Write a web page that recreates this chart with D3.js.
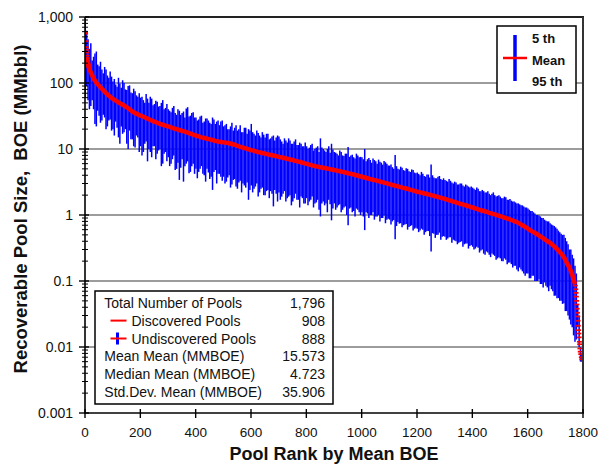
<!DOCTYPE html>
<html><head><meta charset="utf-8">
<script src="https://cdn.jsdelivr.net/npm/d3@7"></script>
<style>
body{margin:0;background:#fff}
svg{display:block}
text{font-family:Arial,"Liberation Sans",sans-serif;fill:#111;white-space:pre}
</style>
</head><body><svg id="c" width="600" height="464"></svg>
<script>
// Pools are ranked by mean BOE. Bars are drawn for every 5th pool:
// the first set at ranks 1, 11, 21, ... and the second set at ranks 6, 16, 26, ...
const RANK_STEP = 10;
const MID_OFFSET = 5;

const meanBOE = [
 590,190,145,117,101,91,82,74,67,62,
 57.5,54,51,48,45.5,43,40,37,35,33.5,
 32,30.8,29.5,28.2,27,26,25,24,23.3,22.6,
 22,21.3,20.6,20,19.4,18.8,18.3,17.7,17.1,16.5,
 16,15.5,15,14.7,14.3,14,13.7,13.3,13,12.8,
 12.6,12.4,12.2,11.9,11.6,11.2,10.8,10.5,10.2,9.9,
 9.6,9.4,9.1,8.9,8.7,8.5,8.3,8.1,7.95,7.8,
 7.6,7.45,7.3,7.1,6.95,6.8,6.6,6.45,6.3,6.1,
 5.95,5.8,5.65,5.5,5.4,5.3,5.2,5.1,5.0,4.9,
 4.8,4.7,4.6,4.5,4.4,4.3,4.2,4.1,4.0,3.9,
 3.8,3.7,3.6,3.5,3.42,3.35,3.26,3.18,3.1,3.02,
 2.93,2.85,2.78,2.72,2.65,2.58,2.52,2.45,2.38,2.32,
 2.25,2.2,2.15,2.1,2.05,2.0,1.95,1.9,1.85,1.8,
 1.75,1.7,1.65,1.6,1.55,1.5,1.46,1.42,1.38,1.34,
 1.3,1.26,1.22,1.18,1.15,1.12,1.08,1.05,1.02,0.99,
 0.96,0.93,0.9,0.87,0.84,0.81,0.78,0.74,0.7,0.66,
 0.62,0.58,0.55,0.52,0.49,0.46,0.43,0.40,0.38,0.35,
 0.32,0.29,0.26,0.23,0.19,0.16,0.125,0.09,0.03,0.008
];
const p95 = [
 950,460,400,250,300,180,160,175,130,150,
 105,95,120,85,100,78,92,70,75,62,
 60,55,68,50,58,48,52,45,55,42,
 40,36,45,33,38,35,30,43,32,36,
 30,28,32,26,29,25,30,24,27,26,
 22,24,20,25,21,19,23,18,21,20,
 24,17,19,16,18,15,17,14.5,16,15,
 15.5,13,14.5,12.5,13.5,12,14,11.5,12,11,
 11,10.5,12,10,11,14.5,10,9,11,12,
 9,8.5,9.5,8,8.5,10.7,8,7.5,8.5,7.5,
 7.5,10,7,6.8,7.2,6.5,6.9,6.2,6.6,6.0,
 5.6,5.3,8.1,5.0,5.4,4.8,5.1,4.6,4.9,4.4,
 4.4,4.0,4.2,3.8,4.1,5.8,3.7,3.6,3.9,3.4,
 3.4,3.2,3.3,3.0,3.1,2.9,3.0,2.7,2.8,2.6,
 2.6,2.4,2.5,2.3,2.3,2.2,2.1,2.1,2.0,1.95,
 1.9,1.8,1.85,1.7,1.65,1.6,1.5,1.45,1.4,1.3,
 1.25,1.15,1.1,1.0,0.98,0.9,0.85,0.8,0.75,0.7,
 0.65,0.58,0.52,0.5,0.4,0.3,0.25,0.17,0.045,0.01
];
const p5 = [
 60,55,45,40,22,32,27,30,22,28,
 20,26,15,22,18,12,19,14,10.5,15,
 11,9,13,10,7.5,11,8.5,10,6,9,
 7.5,6,8,5,3.4,7,5.5,6.5,4.5,6,
 5,4.5,5.5,4,5,3.5,2.4,4.8,4.2,3.8,
 3.8,3.2,4,2.9,3.5,2.5,3.3,3.0,2.6,1.7,
 2.8,2.5,3.0,2.2,2.6,2.0,2.4,2.3,1.35,2.1,
 2.2,1.9,2.3,1.8,2.0,1.6,2.1,1.7,1.9,1.5,
 1.8,1.6,1.9,1.5,1.7,0.95,1.6,1.5,1.7,0.83,
 1.5,1.3,1.45,1.2,1.35,0.7,1.3,1.15,1.25,1.1,
 1.1,0.59,1.05,1.0,1.1,0.95,1.0,0.9,0.98,0.85,
 0.85,0.8,0.43,0.78,0.75,0.7,0.73,0.66,0.7,0.62,
 0.62,0.58,0.6,0.55,0.57,0.28,0.52,0.5,0.54,0.47,
 0.47,0.44,0.46,0.42,0.4,0.38,0.4,0.36,0.37,0.34,
 0.33,0.31,0.32,0.29,0.26,0.28,0.25,0.26,0.24,0.22,
 0.22,0.2,0.21,0.19,0.18,0.17,0.15,0.16,0.14,0.12,
 0.13,0.11,0.12,0.1,0.105,0.09,0.095,0.08,0.085,0.07,
 0.06,0.055,0.05,0.046,0.035,0.026,0.02,0.012,0.02,0.006
];
// second set of pools (ranks 6, 16, 26, ...)
const p95Mid = [
 620,330,220,280,190,210,140,160,120,125,
 115,88,98,110,80,90,72,82,65,70,
 62,50,58,62,46,54,44,50,40,48,
 38,42,35,40,33,37,41,31,35,30,
 27,31,25,29,27,24,28,26,23,27,
 23,20,22,19,23,20,18,21,17,19,
 18,16,17.5,15,16.5,17,14,15.5,13.5,16,
 14,12,13.5,14.5,12,13,11.5,12.5,11,12.5,
 10,11.5,9.5,10.5,9,10.5,9.5,10,8.8,9.8,
 8.8,8,9,7.8,8.5,7.6,8.2,7.2,8,7.6,
 7,6.5,7.3,6.2,6.8,6.0,6.4,5.8,6.3,5.6,
 5.8,5.0,5.5,4.9,5.2,4.7,5.0,4.5,4.8,4.3,
 4.2,4.5,3.9,4.1,3.7,4.0,3.6,3.8,3.5,3.6,
 3.3,3.5,3.1,3.2,2.9,3.0,2.8,2.9,2.7,2.7,
 2.5,2.6,2.3,2.4,2.2,2.3,2.0,2.2,1.9,2.0,
 1.8,1.9,1.7,1.75,1.6,1.55,1.5,1.4,1.35,1.3,
 1.2,1.15,1.05,1.0,0.95,0.9,0.82,0.8,0.72,0.68,
 0.62,0.55,0.5,0.45,0.36,0.3,0.22,0.13,0.03,0.008
];
const p5Mid = [
 90,40,55,24,38,25,33,20,27,19,
 16,21,12,17,20,10,14,11,16,9,
 8,12,6.5,9,11,7,9.5,5.5,8.5,6.5,
 5.5,7,4.8,6.2,5.2,3.2,6,4.3,5.5,4.2,
 3.6,5,4.2,3.2,4.4,3.8,4.5,3.0,4.2,3.3,
 3.0,3.7,2.6,3.4,2.7,3.1,2.2,2.8,3.1,2.4,
 2.2,2.7,1.9,2.5,2.0,2.3,1.8,2.1,2.4,1.6,
 1.7,2.1,1.6,1.9,1.4,1.8,1.7,1.3,1.8,1.5,
 1.4,1.7,1.3,1.55,1.2,1.5,1.4,1.1,1.45,1.25,
 1.2,1.4,1.1,1.3,1.0,1.25,1.1,0.95,1.2,1.0,
 0.95,1.1,0.9,1.0,0.85,0.95,0.8,0.9,0.75,0.88,
 0.72,0.84,0.68,0.74,0.65,0.72,0.6,0.68,0.58,0.64,
 0.55,0.62,0.5,0.57,0.48,0.53,0.45,0.5,0.42,0.48,
 0.42,0.46,0.38,0.41,0.36,0.39,0.33,0.37,0.31,0.35,
 0.3,0.33,0.27,0.3,0.25,0.27,0.23,0.25,0.21,0.23,
 0.2,0.22,0.18,0.19,0.16,0.17,0.14,0.15,0.13,0.13,
 0.11,0.12,0.1,0.1,0.09,0.08,0.085,0.07,0.075,0.06,
 0.055,0.05,0.045,0.035,0.03,0.022,0.015,0.013,0.01,0.006
];
// individually visible mean markers at the head and tail of the ranking
const headRank = [1,2,3,4,5,6,7,8,9,10,12,14,16];
const headMean = [590,560,430,350,320,290,260,240,220,205,190,175,160];
const tailRank = [1772,1774,1775,1776,1777,1778,1779,1780,1781,1782,1783,1784,1785,1786,1787,1788,1789,1790,1792,1794,1796];
const tailMean = [0.085,0.075,0.066,0.058,0.05,0.044,0.038,0.033,0.029,0.025,0.021,0.018,0.016,0.014,0.012,0.011,0.0095,0.0085,0.0078,0.007,0.0065];

const yTickValues = [0.001,0.01,0.1,1,10,100,1000];
const yTickLabels = ["0.001","0.01","0.1","1","10","100","1,000"];
const xTickValues = [0,200,400,600,800,1000,1200,1400,1600,1800];
const legendLabels = ["5 th","Mean","95 th"];
const statsLabels = ["Total Number of Pools","Discovered Pools","Undiscovered Pools","Mean Mean (MMBOE)","Median Mean (MMBOE)","Std.Dev. Mean (MMBOE)"];
const statsValues = ["1,796","908","888","15.573","4.723","35.906"];
const xTitle = "Pool Rank by Mean BOE";
const yTitle = "Recoverable Pool Size,  BOE (MMbbl)";

const svg = d3.select("#c");
const L = 85, R = 583, T = 17, B = 413;
const x = d3.scaleLinear().domain([0,1800]).range([L,R]);
const y = d3.scaleLog().domain([0.001,1000]).range([B,T]);

svg.append("defs").append("clipPath").attr("id","clip")
  .append("rect").attr("x",L).attr("y",T).attr("width",R-L).attr("height",B-T);

// gridlines
svg.append("g").selectAll("line").data(yTickValues.filter(v=>v>0.001 && v<1000)).join("line")
  .attr("x1",L).attr("x2",R).attr("y1",d=>y(d)).attr("y2",d=>y(d))
  .attr("stroke","#3a3a3a").attr("stroke-width",1.2);

const bars = meanBOE.map((m,i)=>({rank:1+i*RANK_STEP, mean:m, lo:p5[i], hi:p95[i]}));
const barsMid = p95Mid.map((h,i)=>({rank:1+MID_OFFSET+i*RANK_STEP, lo:p5Mid[i], hi:h}));
const allBars = bars.concat(barsMid);

const plot = svg.append("g").attr("clip-path","url(#clip)");
plot.append("g").selectAll("line").data(allBars).join("line")
  .attr("x1",d=>x(d.rank)).attr("x2",d=>x(d.rank))
  .attr("y1",d=>y(d.hi)).attr("y2",d=>y(d.lo))
  .attr("stroke","#0000ff").attr("stroke-width",1.5);

// mean line (dense markers merge into a thick line)
const linePts = headRank.map((r,i)=>({rank:r,mean:headMean[i]})).filter(d=>d.rank>=8)
  .concat(bars.filter(d=>d.rank>16 && d.rank<=1771));
plot.append("path").datum(linePts)
  .attr("d", d3.line().x(d=>x(d.rank)).y(d=>y(d.mean)))
  .attr("fill","none").attr("stroke","#ff0000").attr("stroke-width",4.5).attr("stroke-linejoin","round");

const dashes = headRank.map((r,i)=>({rank:r,mean:headMean[i]}))
  .concat(tailRank.map((r,i)=>({rank:r,mean:tailMean[i]})));
plot.append("g").selectAll("line").data(dashes).join("line")
  .attr("x1",d=>x(d.rank)-2.5).attr("x2",d=>x(d.rank)+2.5)
  .attr("y1",d=>y(d.mean)).attr("y2",d=>y(d.mean))
  .attr("stroke","#ff0000").attr("stroke-width",1.8);

// frame
svg.append("line").attr("x1",L).attr("x2",R+1).attr("y1",T).attr("y2",T).attr("stroke","#222").attr("stroke-width",2);
svg.append("line").attr("x1",R).attr("x2",R).attr("y1",T).attr("y2",B).attr("stroke","#333").attr("stroke-width",2);

// y axis
const gy = svg.append("g");
gy.append("line").attr("x1",L).attr("x2",L).attr("y1",T).attr("y2",B+1).attr("stroke","#000").attr("stroke-width",1.6);
const minor = [];
for (let k=0;k<6;k++) for (let m=2;m<=9;m++) minor.push(yTickValues[k]*m);
gy.selectAll(".mn").data(minor).join("line").attr("class","mn")
  .attr("x1",L-3).attr("x2",L+3).attr("y1",d=>y(d)).attr("y2",d=>y(d)).attr("stroke","#000").attr("stroke-width",1);
gy.selectAll(".mj").data(yTickValues).join("line").attr("class","mj")
  .attr("x1",L-6).attr("x2",L+4).attr("y1",d=>y(d)).attr("y2",d=>y(d)).attr("stroke","#000").attr("stroke-width",1.4);
gy.selectAll("text").data(yTickValues).join("text")
  .attr("x",L-12).attr("y",d=>y(d)).attr("dy","0.35em").attr("text-anchor","end")
  .attr("font-size",14).attr("fill","#222").text((d,i)=>yTickLabels[i]);

// x axis
const gx = svg.append("g");
gx.append("line").attr("x1",L).attr("x2",R+1).attr("y1",B).attr("y2",B).attr("stroke","#000").attr("stroke-width",1.6);
gx.selectAll("line.t").data(xTickValues).join("line").attr("class","t")
  .attr("x1",d=>x(d)).attr("x2",d=>x(d)).attr("y1",B-4).attr("y2",B+5).attr("stroke","#000").attr("stroke-width",1.4);
gx.selectAll("text").data(xTickValues).join("text")
  .attr("x",d=>x(d)).attr("y",B+19).attr("dy","0.35em").attr("text-anchor","middle")
  .attr("font-size",13.5).attr("fill","#222").text(d=>d);

// titles
svg.append("text").attr("x",334).attr("y",454).attr("dy","0.35em").attr("text-anchor","middle")
  .attr("font-size",18).attr("font-weight","bold").text(xTitle);
svg.append("text").attr("transform","translate(21,209) rotate(-90)").attr("dy","0.35em").attr("text-anchor","middle")
  .attr("font-size",18.5).attr("font-weight","bold").text(yTitle);

// legend
const lg = svg.append("g");
lg.append("rect").attr("x",497).attr("y",26).attr("width",79).attr("height",67)
  .attr("fill","#fff").attr("stroke","#000").attr("stroke-width",1.5);
lg.append("line").attr("x1",515).attr("x2",515).attr("y1",35).attr("y2",81).attr("stroke","#0000ff").attr("stroke-width",3.5);
lg.append("line").attr("x1",503).attr("x2",527).attr("y1",58).attr("y2",58).attr("stroke","#ff0000").attr("stroke-width",2.5);
lg.selectAll("text").data(legendLabels).join("text")
  .attr("x",532).attr("y",(d,i)=>[38.5,60.5,81.5][i]).attr("dy","0.36em")
  .attr("font-size",13).attr("font-weight","bold").text(d=>d);

// statistics box
const sb = svg.append("g");
sb.append("rect").attr("x",95).attr("y",291).attr("width",238).attr("height",113)
  .attr("fill","#fff").attr("stroke","#000").attr("stroke-width",1.5);
const rowY = i => 302.7 + i*17.9;
sb.selectAll("text.l").data(statsLabels).join("text").attr("class","l")
  .attr("x",(d,i)=> (i===1||i===2)?131.5:104.3).attr("y",(d,i)=>rowY(i)).attr("dy","0.36em")
  .attr("font-size",14).attr("fill","#222").text(d=>d);
sb.selectAll("text.v").data(statsValues).join("text").attr("class","v")
  .attr("x",325).attr("y",(d,i)=>rowY(i)).attr("dy","0.36em").attr("text-anchor","end")
  .attr("font-size",14).attr("fill","#222").text(d=>d);
sb.append("line").attr("x1",110.5).attr("x2",126.5).attr("y1",rowY(1)).attr("y2",rowY(1)).attr("stroke","#ff0000").attr("stroke-width",2);
sb.append("line").attr("x1",117.5).attr("x2",117.5).attr("y1",rowY(2)-6).attr("y2",rowY(2)+6).attr("stroke","#0000ff").attr("stroke-width",3);
sb.append("line").attr("x1",110.5).attr("x2",126.5).attr("y1",rowY(2)).attr("y2",rowY(2)).attr("stroke","#ff0000").attr("stroke-width",2);
</script></body></html>
